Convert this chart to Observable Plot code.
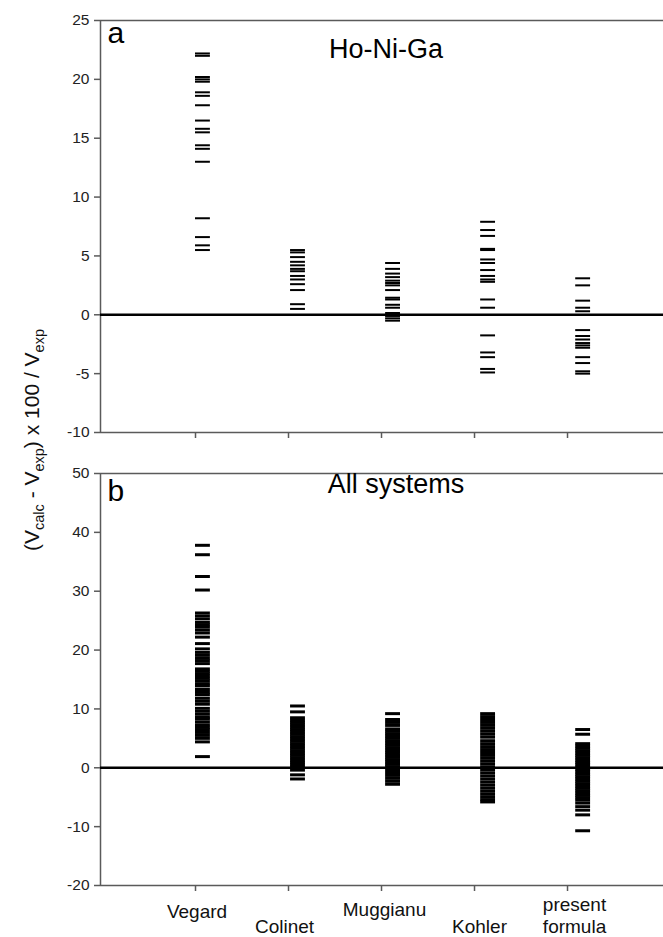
<!DOCTYPE html>
<html>
<head>
<meta charset="utf-8">
<script src="https://cdn.jsdelivr.net/npm/d3@7"></script>
<script src="https://cdn.jsdelivr.net/npm/@observablehq/plot@0.6"></script>
<style>
  html, body { margin: 0; padding: 0; background: #fff; }
  #fig { position: relative; width: 663px; height: 937px; overflow: hidden; font-family: "Liberation Sans", Arial, sans-serif; }
  #fig > svg, #fig > div { position: absolute; left: 0; }
</style>
</head>
<body>
<div id="fig"></div>
<script>
// ---- data ----
const categories = ["Vegard", "Colinet", "Muggianu", "Kohler", "present formula"];

// panel a: Ho-Ni-Ga
const vegardA   = [22.2, 22.0, 20.2, 20.0, 19.8, 18.9, 18.6, 17.8, 16.5, 15.8, 15.5, 14.4, 14.1, 13.0, 8.2, 6.6, 5.9, 5.5];
const colinetA  = [5.5, 5.3, 4.9, 4.5, 4.2, 3.9, 3.7, 3.3, 3.0, 2.6, 2.1, 0.9, 0.5];
const muggianuA = [4.4, 3.9, 3.5, 3.2, 2.9, 2.7, 2.5, 2.1, 1.45, 1.3, 0.85, 0.6, 0.15, -0.1, -0.3, -0.5];
const kohlerA   = [7.9, 7.2, 6.7, 5.6, 5.5, 4.7, 4.4, 3.8, 3.3, 3.0, 2.8, 1.3, 0.6, -1.75, -3.2, -3.6, -4.6, -4.9];
const presentA  = [3.1, 2.5, 1.2, 0.6, 0.3, -1.3, -1.8, -2.1, -2.4, -2.6, -2.8, -3.6, -4.1, -4.8, -5.0];

// panel b: all systems
const vegardB   = [37.8, 36.2, 32.5, 30.2, 26.3, 25.8, 25.3, 24.7, 24.3, 23.9, 23.4, 22.9, 22.2, 21.1, 20.2, 19.6, 19.1, 18.6, 18.2, 17.7, 16.8, 16.4, 16.0, 15.6, 15.2, 14.8, 14.3, 13.9, 13.3, 12.8, 12.4, 11.8, 11.3, 10.8, 10.1, 9.6, 9.1, 8.6, 8.3, 7.8, 7.3, 6.9, 6.5, 6.0, 5.5, 5.0, 4.4, 1.9];
const colinetB  = [10.5, 9.5, 8.5, 8.1, 7.7, 7.3, 6.9, 6.5, 6.1, 5.7, 5.3, 4.9, 4.5, 4.1, 3.7, 3.3, 2.9, 2.5, 2.1, 1.7, 1.3, 0.9, 0.5, 0.1, -0.4, -1.2, -1.9];
const muggianuB = [9.2, 8.2, 7.7, 7.2, 6.6, 6.2, 5.8, 5.4, 5.0, 4.6, 4.2, 3.8, 3.4, 3.0, 2.6, 2.2, 1.8, 1.4, 1.0, 0.6, 0.2, -0.3, -0.8, -1.3, -1.8, -2.3, -2.8];
const kohlerB   = [9.2, 8.7, 8.2, 7.7, 7.2, 6.7, 6.2, 5.7, 5.2, 4.6, 4.1, 3.6, 3.1, 2.6, 2.1, 1.6, 1.1, 0.6, 0.1, -0.4, -0.9, -1.4, -1.9, -2.4, -2.9, -3.4, -3.9, -4.4, -4.9, -5.4, -5.8];
const presentB  = [6.5, 5.7, 4.1, 3.7, 3.3, 2.9, 2.5, 2.1, 1.7, 1.3, 0.9, 0.5, 0.1, -0.3, -0.7, -1.1, -1.5, -1.9, -2.3, -2.7, -3.1, -3.5, -3.9, -4.3, -4.7, -5.1, -5.5, -6.0, -6.6, -7.2, -8.0, -10.7];

const ticksA = [25, 20, 15, 10, 5, 0, -5, -10];
const ticksB = [50, 40, 30, 20, 10, 0, -10, -20];

function table(series) {
  const rows = [];
  series.forEach((vals, k) => vals.forEach(v => rows.push({cat: categories[k], i: k + 1, v})));
  return rows;
}
const dataA = table([vegardA, colinetA, muggianuA, kohlerA, presentA]);
const dataB = table([vegardB, colinetB, muggianuB, kohlerB, presentB]);

const XDOM = [-0.0215, 6.032];
const AXIS = "#5a5a5a";
const FONT = "Liberation Sans, Arial, sans-serif";

function panel({data, yDomain, yTicks, height, marginTop, marginBottom, dashWidth, letter, letterDy, title, titleDx, titleDy, extra = []}) {
  return Plot.plot({
    width: 663, height, marginLeft: 100, marginRight: 0, marginTop, marginBottom,
    style: {fontFamily: FONT, fontSize: "15px", color: "#222", overflow: "visible", background: "white"},
    x: {domain: XDOM},
    y: {domain: yDomain},
    marks: [
      Plot.ruleY([yDomain[1]], {stroke: AXIS, strokeWidth: 1.5}),
      Plot.ruleY([yDomain[0]], {stroke: AXIS, strokeWidth: 1.5}),
      Plot.ruleX([XDOM[0]], {stroke: AXIS, strokeWidth: 1.5}),
      Plot.ruleY([0], {stroke: "black", strokeWidth: 2.6}),
      Plot.axisY({ticks: yTicks, tickSize: 6, tickPadding: 5, tickFormat: d => String(d), label: null, stroke: AXIS, strokeWidth: 1.5, fill: "#222", fontSize: 15.5}),
      Plot.axisX({ticks: [1, 2, 3, 4, 5], tickSize: 6, tickFormat: () => "", label: null, stroke: AXIS, strokeWidth: 1.5}),
      Plot.ruleY(data, {y: "v", x1: d => d.i + 0.022 * (d.i - 1), x2: d => d.i + 0.022 * (d.i - 1) + 0.16, stroke: "black", strokeWidth: dashWidth}),
      Plot.text([letter], {frameAnchor: "top-left", dx: 7, dy: letterDy, lineAnchor: "bottom", fontSize: 30, fill: "black"}),
      Plot.text([title], {frameAnchor: "top", dx: titleDx, dy: titleDy, lineAnchor: "bottom", fontSize: 27, fill: "black"}),
      ...extra
    ]
  });
}

const plotA = panel({data: dataA, yDomain: [-10, 25], yTicks: ticksA, height: 445, marginTop: 20, marginBottom: 13, dashWidth: 2,
  letter: "a", letterDy: 22, title: "Ho-Ni-Ga", titleDx: 4, titleDy: 37});

const labelMark = (text, dx, dy) => Plot.text([text], {x: categories.indexOf(text.replace("\n", " ")) + 1, y: -20, dx, dy, lineAnchor: "bottom", fontSize: 19, lineHeight: 1.12, fill: "#111", textAnchor: "middle"});

const plotB = panel({data: dataB, yDomain: [-20, 50], yTicks: ticksB, height: 492, marginTop: 28, marginBottom: 52, dashWidth: 3,
  letter: "b", letterDy: 27, title: "All systems", titleDx: 14, titleDy: 19,
  extra: [
    labelMark("Vegard", 1.5, 32),
    labelMark("Colinet", -4, 47),
    labelMark("Muggianu", 3, 30),
    labelMark("Kohler", 5, 47),
    labelMark("present\nformula", 7, 47)
  ]});

const fig = document.getElementById("fig");
plotA.style.top = "0px";
plotB.style.top = "445px";
fig.appendChild(plotA);
fig.appendChild(plotB);

// shared y-axis label with subscripts
const ns = "http://www.w3.org/2000/svg";
const lab = document.createElementNS(ns, "svg");
lab.setAttribute("width", "70"); lab.setAttribute("height", "937");
lab.style.position = "absolute"; lab.style.left = "0px"; lab.style.top = "0px";
const t = document.createElementNS(ns, "text");
t.setAttribute("transform", "translate(39,440) rotate(-90)");
t.setAttribute("text-anchor", "middle");
t.setAttribute("font-family", FONT);
t.setAttribute("font-size", "21");
t.setAttribute("fill", "#111");
const parts = [["(V", 0, 21], ["calc", 5, 14.5], [" - V", -5, 21], ["exp", 5, 14.5], [") x 100 / V", -5, 21], ["exp", 5, 14.5]];
parts.forEach(([s, dy, fs]) => {
  const sp = document.createElementNS(ns, "tspan");
  sp.setAttribute("dy", dy); sp.setAttribute("font-size", fs);
  sp.textContent = s;
  t.appendChild(sp);
});
lab.appendChild(t);
fig.appendChild(lab);
</script>
</body>
</html>
